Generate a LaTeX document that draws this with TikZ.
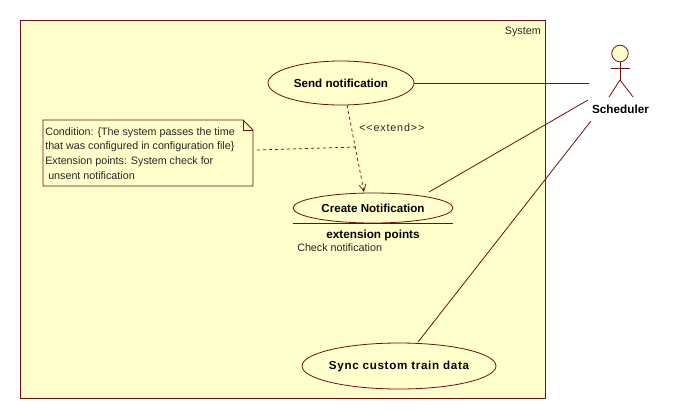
\documentclass[tikz,border=0pt]{standalone}
\usepackage{fontspec}
\setmainfont{Liberation Sans}
\usetikzlibrary{arrows.meta,positioning,shapes.geometric}
\definecolor{umlline}{HTML}{6E0F0F}
\definecolor{umlfill}{HTML}{FFFFCC}
\begin{document}
\begin{tikzpicture}[
    x=0.75pt, y=-0.75pt,
    font=\fontsize{8.05}{11.2}\selectfont,
    >={Straight Barb[length=5pt,width=5pt]},
    % Styles
    usecase/.style={% For the use cases
        ellipse,
        draw=umlline,
        fill=umlfill,
        line width=0.6pt,
        inner sep=0pt,
        font=\fontsize{8.7}{10}\selectfont\bfseries,
        },
    assoc/.style={% Actor links
        draw=umlline,
        line width=0.6pt,
        },
    dep/.style={% Dashed lines
        draw=umlline,
        line width=0.55pt,
        dash pattern=on 2.3pt off 2.2pt,
        },
    mylabel/.style={% Plain texts
        inner sep=0pt,
        text=black!85,
        },
    boldlabel/.style={% Bold texts
        mylabel,
        font=\fontsize{8.8}{10}\selectfont\bfseries,
        text=black,
        anchor=base,
        },
    ]

    % The system box
    \draw [draw=umlline, fill=umlfill, line width=0.75pt] (20,20) rectangle (545,398);
    \node [mylabel, anchor=north east] (system) at (541,27) {System};

    % Use cases
    \node [usecase, minimum width=109.5pt, minimum height=33pt] (send) at (341,83) {Send notification};
    \node [usecase, minimum width=120pt, minimum height=22.5pt] (create) at (373,208) {Create Notification};
    \node [usecase, inner sep=-2.6pt, minimum width=145.5pt, minimum height=34.5pt, font=\fontsize{8.7}{10}\selectfont\bfseries\addfontfeatures{LetterSpace=6}] (sync) at (399,366) {Sync custom train data};

    % Extension points
    \coordinate (sepl) at (293,223);
    \coordinate (sepr) at (453,223);
    \draw [assoc] (sepl) -- (sepr);
    \node [boldlabel] (points) at (373,238) {extension points};
    \node [mylabel, anchor=base west] (check) at (297,251) {Check notification};

    % The note
    \draw [draw=umlline, fill=umlfill, line width=0.6pt] (43,120) -- (243,120) -- (253,130) -- (253,186) -- (43,186) -- cycle;
    \draw [draw=umlline, line width=0.55pt] (243,120) -- (243,130) -- (253,130);
    \node [mylabel, anchor=north west, align=left] (note) at (45,127) {Condition: \{The system passes the time\\that was configured in configuration file\}\\Extension points: System check for\\\ unsent notification};

    % The extend dependency
    \coordinate (sendout) at (347,105);
    \coordinate (createin) at (364,192);
    \coordinate (noteend) at (257,150);
    \coordinate (notejoin) at (356,147);
    \draw [dep, ->] (sendout) -- (createin);
    \draw [dep] (noteend) -- (notejoin);
    \node [mylabel, anchor=west, font=\fontsize{8.05}{11}\selectfont\addfontfeatures{LetterSpace=8}] (extend) at (359,128) {<{}<extend>{}>};

    % The actor
    \node [circle, draw=umlline, fill=umlfill, line width=0.6pt, minimum size=12.4pt, inner sep=0pt] (head) at (620,53.5) {};
    \coordinate (hip) at (620,80);
    \coordinate (armL) at (611,68);
    \coordinate (armR) at (630,68);
    \coordinate (legL) at (609,97);
    \coordinate (legR) at (633,97);
    \draw [assoc] (head) -- (hip);
    \draw [assoc] (armL) -- (armR);
    \draw [assoc] (legL) -- (hip) -- (legR);
    \node [boldlabel] (scheduler) at (620.5,113) {Scheduler};

    % Actor links
    \coordinate (actorA) at (589,83);
    \coordinate (actorB) at (588,100);
    \coordinate (actorC) at (591,121);
    \coordinate (createout) at (429,192);
    \coordinate (syncout) at (418,342);
    \draw [assoc] (send) -- (actorA);
    \draw [assoc] (createout) -- (actorB);
    \draw [assoc] (syncout) -- (actorC);

    \useasboundingbox (0,0) rectangle (673,418);
\end{tikzpicture}
\end{document}
